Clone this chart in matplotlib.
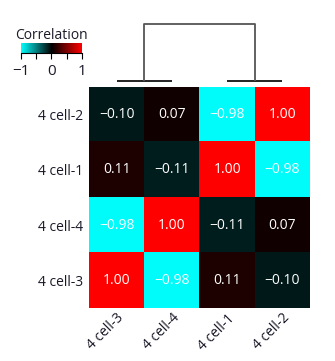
import matplotlib
matplotlib.use("Agg")
import matplotlib.pyplot as plt
from matplotlib.colors import LinearSegmentedColormap
import numpy as np

plt.rcParams['font.family'] = ['Open Sans', 'DejaVu Sans']

col_labels = ["4 cell-3", "4 cell-4", "4 cell-1", "4 cell-2"]
row_labels = ["4 cell-2", "4 cell-1", "4 cell-4", "4 cell-3"]
corr = np.array([
    [-0.10, 0.07, -0.98, 1.00],
    [0.11, -0.11, 1.00, -0.98],
    [-0.98, 1.00, -0.11, 0.07],
    [1.00, -0.98, 0.11, -0.10],
])
# merges: (left leaf/cluster, right leaf/cluster, height)
merges = [(0, 1, 0.0), (2, 3, 0.0), (4, 5, 1.0)]

W, H = 335, 361
fig = plt.figure(figsize=(W / 100, H / 100), dpi=100)

def box(x0, y0, x1, y1):
    return [x0 / W, 1 - y1 / H, (x1 - x0) / W, (y1 - y0) / H]

cmap = LinearSegmentedColormap.from_list("cbr", ["#00ffff", "#000000", "#ff0000"])

ax = fig.add_axes(box(89, 87, 310, 308))
ax.imshow(corr, cmap=cmap, vmin=-1, vmax=1, aspect='auto')
for i in range(corr.shape[0]):
    for j in range(corr.shape[1]):
        ax.text(j, i, f"{corr[i, j]:.2f}".replace("-", "\u2212"), ha='center', va='center',
                color='white', fontsize=10)
ax.set_xticks(range(len(col_labels)))
ax.set_xticklabels(col_labels, rotation=45, ha='right', rotation_mode='anchor', fontsize=10, color='#1a1a2a')
ax.set_yticks(range(len(row_labels)))
ax.set_yticklabels(row_labels, fontsize=10, color='#1a1a2a')
ax.tick_params(axis='x', length=0, pad=2)
ax.tick_params(axis='y', length=0, pad=4)
for s in ax.spines.values():
    s.set_visible(False)

# dendrogram
dax = fig.add_axes(box(89, 20, 310, 85))
pos = {i: float(i) for i in range(len(col_labels))}
hgt = {i: 0.0 for i in range(len(col_labels))}
nid = len(col_labels)
for a, b, h in merges:
    c = '#555555' if h > 0 else '#111111'
    dax.plot([pos[a], pos[a], pos[b], pos[b]], [hgt[a], h, h, hgt[b]], color=c, lw=1.3,
             solid_capstyle='butt')
    pos[nid] = (pos[a] + pos[b]) / 2
    hgt[nid] = h
    nid += 1
dax.set_xlim(-0.5, len(col_labels) - 0.5)
# y: 0 at pixel 81, 1 at pixel 24 within axes 20..85
top = 1.0
scale = top / (81 - 24)
dax.set_ylim(-(85 - 81) * scale, top + (24 - 20) * scale)
dax.axis('off')

# colorbar
cax = fig.add_axes(box(21, 43, 82, 53))
grad = np.linspace(-1, 1, 256).reshape(1, -1)
cax.imshow(grad, cmap=cmap, aspect='auto', extent=[-1, 1, 0, 1])
cax.set_yticks([])
cax.set_xticks([-1, -0.5, 0, 0.5, 1])
cax.set_xticklabels(["\u22121", "", "0", "", "1"], fontsize=11, color='#1a1a2a')
cax.tick_params(axis='x', direction='out', length=4, width=0.8, pad=4)
for s in ["top", "left", "right"]:
    cax.spines[s].set_visible(False)
cax.spines['bottom'].set_linewidth(0.8)
cax.set_title("Correlation", fontsize=10, color='#1a1a2a', pad=3)

fig.savefig("out.png", dpi=100)
